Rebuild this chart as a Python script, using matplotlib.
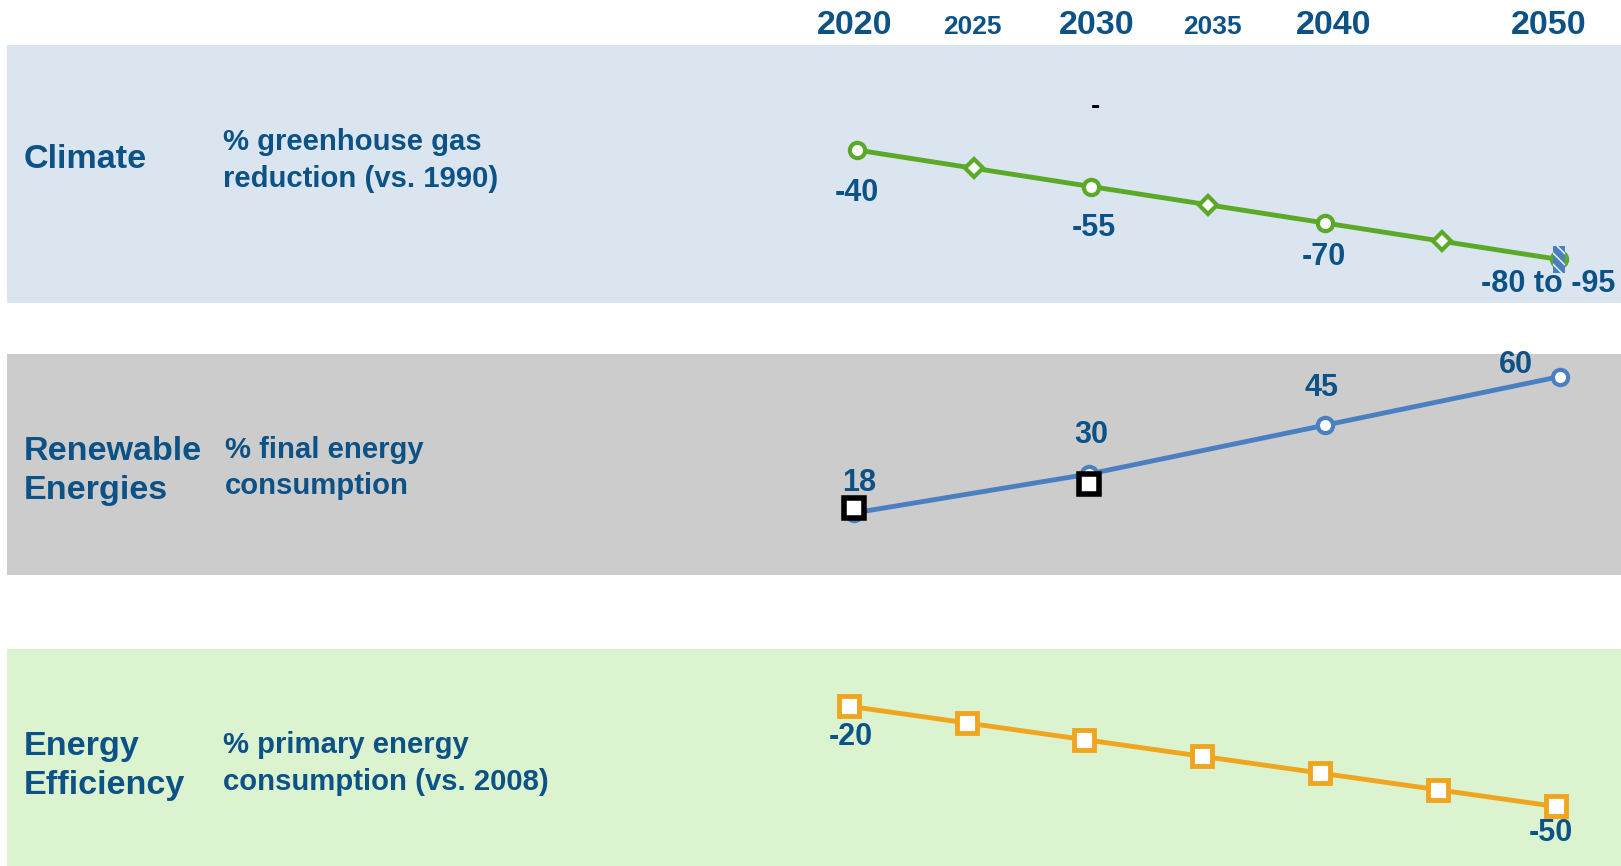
import matplotlib
matplotlib.use('Agg')
import matplotlib.pyplot as plt
from matplotlib.patches import Rectangle

plt.rcParams['font.family'] = ['Liberation Sans', 'DejaVu Sans']
plt.rcParams['font.weight'] = 'bold'

text_blue = '#0D5286'

# header years
header_years = [2020, 2025, 2030, 2035, 2040, 2050]
header_big = [True, False, True, False, True, True]

# climate: % greenhouse gas reduction vs. 1990
climate_years = [2020, 2025, 2030, 2035, 2040, 2045, 2050]
climate_vals = [-40, -47.5, -55, -62.5, -70, -77.5, -85]
climate_label_years = [2020, 2030, 2040, 2050]
climate_label_vals = [-40, -55, -70, -85]
climate_labels = ['-40', '-55', '-70', '-80 to -95']

# renewables: % final energy consumption
renew_years = [2020, 2030, 2040, 2050]
renew_vals = [18, 30, 45, 60]
renew_labels = ['18', '30', '45', '60']
renew_box_years = [2020, 2030]
renew_box_vals = [19.6, 27.0]

# efficiency: % primary energy consumption vs. 2008
eff_years = [2020, 2025, 2030, 2035, 2040, 2045, 2050]
eff_vals = [-20, -25, -30, -35, -40, -45, -50]
eff_label_years = [2020, 2050]
eff_label_vals = [-20, -50]
eff_labels = ['-20', '-50']

W, H = 1621, 866
fig = plt.figure(figsize=(W / 100, H / 100), dpi=100)


def band(top, bottom, color, xlim, ylim):
    ax = fig.add_axes([7.2 / W, 1 - bottom / H, 1 - 7.2 / W, (bottom - top) / H])
    ax.set_facecolor(color)
    ax.set_xlim(*xlim)
    ax.set_ylim(*ylim)
    ax.set_xticks([])
    ax.set_yticks([])
    for s in ax.spines.values():
        s.set_visible(False)
    return ax


def put_labels(ax, xs, ys, labels, offsets):
    for x, y, t, (dx, dy) in zip(xs, ys, labels, offsets):
        ax.annotate(t, (x, y), xytext=(dx, dy - 3), textcoords='offset pixels',
                    ha='center', va='center', fontsize=22, color=text_blue,
                    fontweight='bold', annotation_clip=False)


# --- climate
green = '#5AA927'
ax1 = band(44.5, 303, '#DAE5F0', (1983.68, 2052.65), (-102.9, 3.4))
ax1.plot(climate_years, climate_vals, color=green, lw=3.5, zorder=2)
ax1.plot(climate_years[::2], climate_vals[::2], ls='none', marker='o', ms=11,
         mfc='white', mec=green, mew=3, zorder=3)
ax1.plot(climate_years[1::2], climate_vals[1::2], ls='none', marker='D', ms=9.5,
         mfc='white', mec=green, mew=3, zorder=3)
ax1.add_patch(Rectangle((climate_years[-1] - 0.25, climate_vals[-1] - 5.5), 0.5, 11,
                        facecolor='#4A7FC1', edgecolor='white', hatch='\\\\\\', lw=0, zorder=4))
put_labels(ax1, climate_label_years, climate_label_vals, climate_labels,
           [(0, -40), (3, -38), (-1, -31), (-11, -22)])
ax1.annotate('-', (2030, -55), xytext=(4, 80), textcoords='offset pixels',
             ha='center', va='center', fontsize=20, color='black', annotation_clip=False)

for yr, big in zip(header_years, header_big):
    nudge = {2020: -2, 2025: -2, 2030: 6, 2035: 4, 2040: 9, 2050: -10}[yr]
    ax1.annotate(str(yr), (yr, 1.0), xycoords=('data', 'axes fraction'),
                 xytext=(nudge, 19.5 if big else 17.5), textcoords='offset pixels',
                 ha='center', va='center', fontsize=24.5 if big else 19,
                 color=text_blue, fontweight='bold', annotation_clip=False)

# --- renewables
blue = '#4A7FC1'
ax2 = band(353.5, 575, '#CCCCCC', (1984.03, 2052.59), (-1.1, 67.1))
ax2.plot(renew_years, renew_vals, color=blue, lw=3.5, marker='o', ms=11,
         mfc='white', mec=blue, mew=3, zorder=2)
ax2.plot(renew_box_years, renew_box_vals, ls='none', marker='s', ms=14,
         mfc='white', mec='black', mew=4, zorder=3)
put_labels(ax2, renew_years, renew_vals, renew_labels,
           [(5, 33), (2, 42), (-3, 40), (-44, 15)])

# --- efficiency
orange = '#F0A51F'
ax3 = band(649, 866, '#DCF3D0', (1984.31, 2052.76), (-67.8, -2.9))
ax3.plot(eff_years, eff_vals, color=orange, lw=3.5, marker='s', ms=15,
         mfc='white', mec=orange, mew=3.5, zorder=2)
put_labels(ax3, eff_label_years, eff_label_vals, eff_labels, [(2, -28), (-5, -24)])

# --- row titles
titles = ['Climate', 'Renewable\nEnergies', 'Energy\nEfficiency']
title_y = [160, 471, 766]
subtitles = ['% greenhouse gas\nreduction (vs. 1990)', '% final energy\nconsumption',
             '% primary energy\nconsumption (vs. 2008)']
sub_y = [160.5, 468, 763.5]
sub_x = [223, 225, 223]
for t, y in zip(titles, title_y):
    fig.text(24 / W, 1 - y / H, t, ha='left', va='center', fontsize=24.6,
             color=text_blue, fontweight='bold', linespacing=1.33)
for t, x, y in zip(subtitles, sub_x, sub_y):
    fig.text(x / W, 1 - y / H, t, ha='left', va='center', fontsize=21.1,
             color=text_blue, fontweight='bold', linespacing=1.38)

plt.savefig('out.png', dpi=100)
plt.close()
